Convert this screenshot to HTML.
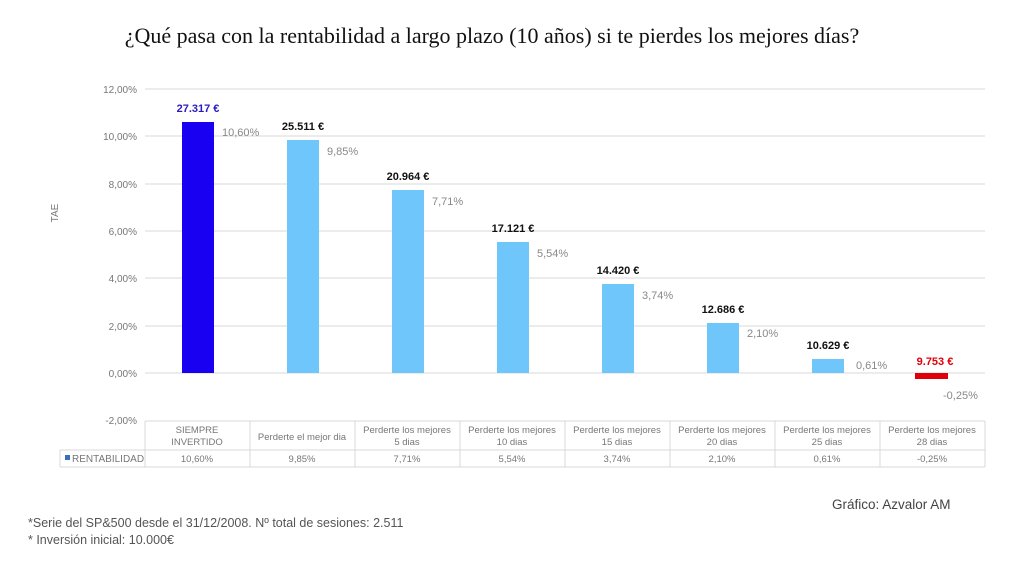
<!DOCTYPE html>
<html><head><meta charset="utf-8"><style>
body{margin:0;background:#fff;width:1035px;height:572px;overflow:hidden}
svg{display:block}
</style></head><body>
<svg width="1035" height="572" xmlns="http://www.w3.org/2000/svg" font-family="Liberation Sans, sans-serif">
<text x="492" y="43" text-anchor="middle" font-family="Liberation Serif, serif" font-size="22" fill="#111">¿Qué pasa con la rentabilidad a largo plazo (10 años) si te pierdes los mejores días?</text>
<g stroke="#d9d9d9" stroke-width="1">
<line x1="145" y1="89" x2="985" y2="89"/><line x1="145" y1="136" x2="985" y2="136"/>
<line x1="145" y1="184" x2="985" y2="184"/><line x1="145" y1="231" x2="985" y2="231"/>
<line x1="145" y1="278" x2="985" y2="278"/><line x1="145" y1="326" x2="985" y2="326"/>
<line x1="145" y1="373" x2="985" y2="373"/>
</g>
<g font-size="10" fill="#777" text-anchor="end">
<text x="137" y="93">12,00%</text><text x="137" y="140">10,00%</text><text x="137" y="188">8,00%</text>
<text x="137" y="235">6,00%</text><text x="137" y="282">4,00%</text><text x="137" y="330">2,00%</text>
<text x="137" y="377">0,00%</text><text x="137" y="424">-2,00%</text>
</g>
<text x="58" y="213" font-size="10" fill="#777" transform="rotate(-90 58 213)" text-anchor="middle">TAE</text>
<g>
<rect x="182" y="122" width="32" height="251" fill="#1a00f0"/>
<rect x="287" y="140" width="32" height="233" fill="#6ec6fb"/>
<rect x="392" y="190" width="32" height="183" fill="#6ec6fb"/>
<rect x="497" y="242" width="32" height="131" fill="#6ec6fb"/>
<rect x="602" y="284" width="32" height="89" fill="#6ec6fb"/>
<rect x="707" y="323" width="32" height="50" fill="#6ec6fb"/>
<rect x="812" y="359" width="32" height="14" fill="#6ec6fb"/>
<rect x="915" y="373" width="33" height="6" fill="#e0000a"/>
</g>
<g font-size="11" font-weight="bold" text-anchor="middle" fill="#111">
<text x="198" y="112" fill="#2a1ac0">27.317 €</text>
<text x="303" y="130">25.511 €</text>
<text x="408" y="180">20.964 €</text>
<text x="513" y="232">17.121 €</text>
<text x="618" y="274">14.420 €</text>
<text x="723" y="313">12.686 €</text>
<text x="828" y="349">10.629 €</text>
<text x="935" y="365" fill="#e0000a">9.753 €</text>
</g>
<g font-size="11" fill="#888">
<text x="222" y="136">10,60%</text><text x="327" y="155">9,85%</text><text x="432" y="205">7,71%</text>
<text x="537" y="257">5,54%</text><text x="642" y="299">3,74%</text><text x="747" y="337">2,10%</text>
<text x="856" y="369">0,61%</text><text x="943" y="399">-0,25%</text>
</g>
<g stroke="#d9d9d9" fill="none">
<line x1="145" y1="421" x2="985" y2="421"/>
<line x1="60" y1="450" x2="985" y2="450"/>
<line x1="60" y1="467" x2="985" y2="467"/>
<line x1="60" y1="450" x2="60" y2="467"/>
<line x1="145" y1="421" x2="145" y2="467"/><line x1="250" y1="421" x2="250" y2="467"/>
<line x1="355" y1="421" x2="355" y2="467"/><line x1="460" y1="421" x2="460" y2="467"/>
<line x1="565" y1="421" x2="565" y2="467"/><line x1="670" y1="421" x2="670" y2="467"/>
<line x1="775" y1="421" x2="775" y2="467"/><line x1="880" y1="421" x2="880" y2="467"/>
<line x1="985" y1="421" x2="985" y2="467"/>
</g>
<g font-size="9.5" fill="#777" text-anchor="middle">
<text x="197" y="433">SIEMPRE</text><text x="197" y="445">INVERTIDO</text>
<text x="302" y="440">Perderte el mejor dia</text>
<text x="407" y="433">Perderte los mejores</text><text x="407" y="445">5 dias</text>
<text x="512" y="433">Perderte los mejores</text><text x="512" y="445">10 dias</text>
<text x="617" y="433">Perderte los mejores</text><text x="617" y="445">15 dias</text>
<text x="722" y="433">Perderte los mejores</text><text x="722" y="445">20 dias</text>
<text x="827" y="433">Perderte los mejores</text><text x="827" y="445">25 dias</text>
<text x="932" y="433">Perderte los mejores</text><text x="932" y="445">28 dias</text>
<text x="197" y="462">10,60%</text><text x="302" y="462">9,85%</text><text x="407" y="462">7,71%</text>
<text x="512" y="462">5,54%</text><text x="617" y="462">3,74%</text><text x="722" y="462">2,10%</text>
<text x="827" y="462">0,61%</text><text x="932" y="462">-0,25%</text>
</g>
<rect x="65" y="455" width="5" height="5" fill="#3a6fc0"/>
<text x="72" y="462" font-size="10" fill="#777">RENTABILIDAD</text>
<text x="832" y="509" font-size="13.5" fill="#444">Gráfico: Azvalor AM</text>
<text x="28" y="527" font-size="12.5" fill="#555">*Serie del SP&amp;500 desde el 31/12/2008. Nº total de sesiones: 2.511</text>
<text x="28" y="544" font-size="12.5" fill="#555">* Inversión inicial: 10.000€</text>
</svg>
</body></html>
